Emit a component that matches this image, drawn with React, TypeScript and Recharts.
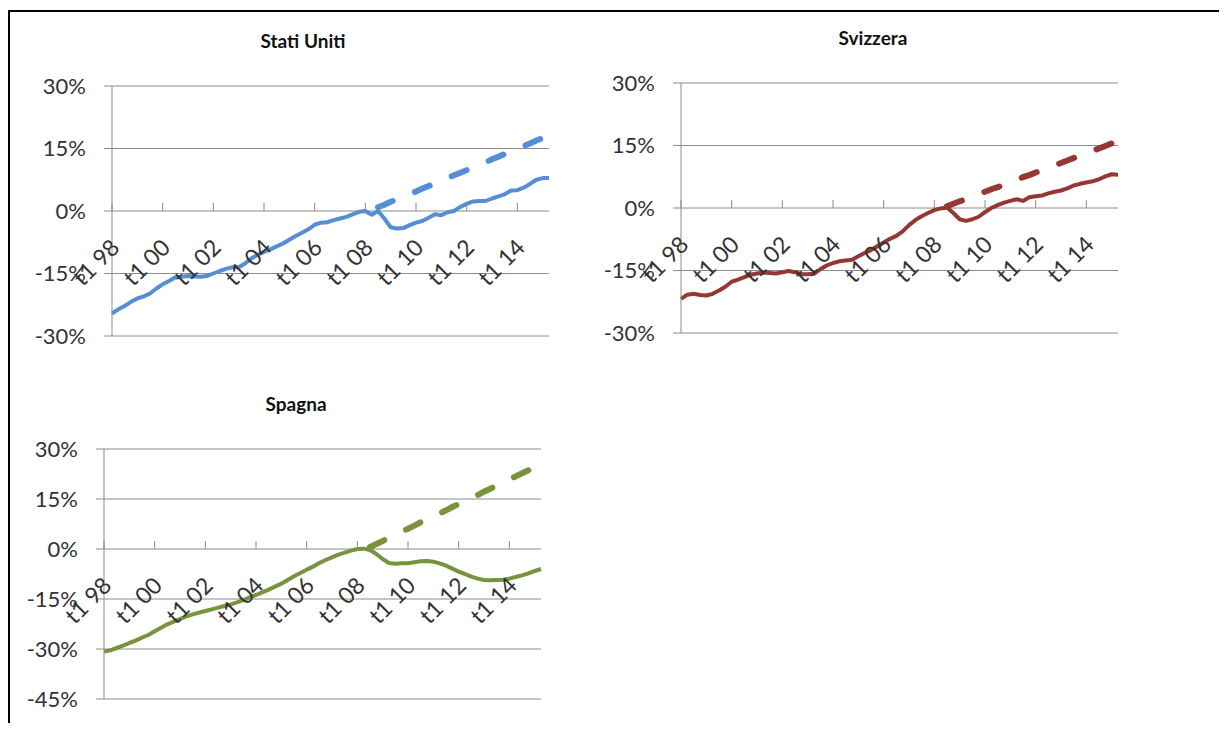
import { LineChart, Line, XAxis, YAxis, CartesianGrid } from 'recharts';

// quarters t1 98 .. t2 15
const years = ['98', '99', '00', '01', '02', '03', '04', '05', '06', '07', '08', '09', '10', '11', '12', '13', '14', '15'];
const quarters = years.flatMap((y) => [1, 2, 3, 4].map((q) => `t${q} ${y}`)).slice(0, 70);

// trend lines start at t3 08
const TREND_START = 42;

const usActual = [
  -24.6, -23.6, -22.8, -21.8, -21.0, -20.5, -19.8, -18.6, -17.6, -16.8,
  -15.9, -15.8, -15.6, -15.7, -15.8, -15.6, -15.0, -14.4, -13.9, -13.5,
  -13.5, -12.6, -11.4, -10.5, -9.8, -9.2, -8.5, -7.8, -6.9, -6.0,
  -5.2, -4.4, -3.3, -2.8, -2.7, -2.2, -1.8, -1.4, -0.8, -0.2,
  0.0, -0.9, 0.0, -1.8, -3.9, -4.2, -4.1, -3.4, -2.8, -2.4,
  -1.6, -0.8, -1.0, -0.3, 0.0, 1.0, 1.7, 2.3, 2.4, 2.4,
  3.0, 3.5, 4.0, 4.9, 5.0, 5.6, 6.5, 7.5, 7.9, 7.9,
];
const usTrend = [
  0.9, 1.5, 2.2, 2.8, 3.4, 4.1, 4.7, 5.4, 6.0, 6.6,
  7.3, 7.9, 8.6, 9.2, 9.8, 10.5, 11.1, 11.7, 12.4, 13.0,
  13.7, 14.3, 14.9, 15.6, 16.2, 16.9, 17.5, 18.1,
];

const chActual = [
  -21.8, -20.8, -20.6, -20.9, -21.0, -20.6, -19.8, -18.9, -17.7, -17.2,
  -16.6, -16.0, -15.7, -15.5, -15.6, -15.7, -15.4, -15.1, -15.4, -15.9,
  -15.9, -15.8, -14.7, -13.8, -13.2, -12.8, -12.6, -12.4, -11.6, -10.8,
  -10.1, -9.2, -8.3, -7.4, -6.7, -5.6, -4.1, -2.9, -2.0, -1.2,
  -0.5, -0.1, 0.1, -1.2, -2.7, -3.1, -2.7, -2.1, -1.0, 0.0,
  0.7, 1.3, 1.7, 2.1, 1.7, 2.6, 2.8, 3.0, 3.5, 3.9,
  4.2, 4.7, 5.4, 5.8, 6.1, 6.4, 6.9, 7.6, 8.1, 8.0,
];
const chTrend = [
  0.4, 1.0, 1.6, 2.1, 2.7, 3.3, 3.9, 4.5, 5.0, 5.6,
  6.2, 6.8, 7.4, 7.9, 8.5, 9.1, 9.7, 10.3, 10.8, 11.4,
  12.0, 12.6, 13.2, 13.7, 14.3, 14.9, 15.5, 16.1,
];

const esActual = [
  -30.8, -30.4, -29.7, -29.0, -28.2, -27.5, -26.6, -25.8, -24.7, -23.6,
  -22.6, -21.8, -21.0, -20.2, -19.6, -19.1, -18.6, -18.1, -17.6, -17.1,
  -16.6, -16.0, -15.3, -14.5, -13.8, -13.0, -12.2, -11.3, -10.4, -9.3,
  -8.2, -7.2, -6.2, -5.3, -4.2, -3.3, -2.5, -1.7, -1.1, -0.5,
  0.0, 0.1, -0.3, -1.5, -3.0, -4.2, -4.4, -4.3, -4.3, -4.0,
  -3.7, -3.6, -3.8, -4.3, -5.0, -5.9, -6.8, -7.5, -8.3, -8.9,
  -9.3, -9.4, -9.3, -9.2, -8.9, -8.4, -7.9, -7.3, -6.6, -6.0,
];
const esTrend = [
  0.6, 1.5, 2.4, 3.4, 4.3, 5.2, 6.1, 7.0, 8.0, 8.9,
  9.8, 10.7, 11.6, 12.6, 13.5, 14.4, 15.3, 16.2, 17.2, 18.1,
  19.0, 19.9, 20.8, 21.8, 22.7, 23.6, 24.5, 25.4,
];

const ticksA = [-30, -15, 0, 15, 30];
const ticksB = [-45, -30, -15, 0, 15, 30];

const GRID = '#8c8c8c';
const TEXT = '#333333';
const FONT = 'Lato, "Open Sans", sans-serif';

type PanelProps = {
  title: string;
  actual: number[];
  trend: number[];
  color: string;
  yTicks: number[];
  left: number;
  top: number;
  width: number;
  marginTop: number;
  marginRight: number;
  plotH: number;
  yWidth: number;
  titleX: number;
  titleY: number;
};

function Panel(p: PanelProps) {
  const rows = quarters.map((q, i) => ({
    q,
    actual: p.actual[i],
    trend: i >= TREND_START ? p.trend[i - TREND_START] : null,
  }));
  const yMin = p.yTicks[0];
  const yMax = p.yTicks[p.yTicks.length - 1];
  const zeroY = p.marginTop + (p.plotH * yMax) / (yMax - yMin);
  const xAxisH = 20;
  const height = p.marginTop + p.plotH + xAxisH;

  // category ticks sit on the 0% line: short mark upward, label slanted below
  const CategoryTick = (props: any) => {
    const { x, payload } = props;
    return (
      <g>
        <line x1={x} x2={x} y1={zeroY - 8} y2={zeroY} stroke={GRID} />
        <g transform={`translate(${x + 9} ${zeroY + 38}) rotate(-45)`}>
          <text x={0} y={0} textAnchor="end" fontSize={23} fill={TEXT} fontFamily={FONT}>
            {payload.value}
          </text>
        </g>
      </g>
    );
  };

  return (
    <>
      <div
        style={{
          position: 'absolute',
          left: p.titleX - 150,
          top: p.titleY - 12,
          width: 300,
          lineHeight: '24px',
          textAlign: 'center',
          fontFamily: FONT,
          fontWeight: 700,
          fontSize: 19,
          color: '#111',
        }}
      >
        {p.title}
      </div>
      <div style={{ position: 'absolute', left: p.left, top: p.top }}>
        <LineChart
          width={p.width}
          height={height}
          data={rows}
          style={{ overflow: 'visible' }}
          margin={{ top: p.marginTop, right: p.marginRight, bottom: 0, left: 0 }}
        >
          <CartesianGrid vertical={false} stroke={GRID} />
          <XAxis
            dataKey="q"
            interval={7}
            height={xAxisH}
            axisLine={false}
            tickLine={false}
            tick={CategoryTick}
          />
          <YAxis
            width={p.yWidth}
            domain={[yMin, yMax]}
            ticks={p.yTicks}
            interval={0}
            tickFormatter={(v: number) => `${v}%`}
            axisLine={{ stroke: GRID }}
            tickLine={{ stroke: GRID }}
            tickSize={8}
            tickMargin={18}
            tick={{ fill: TEXT, fontSize: 22, fontFamily: FONT }}
          />
          <Line
            type="linear"
            dataKey="actual"
            stroke={p.color}
            strokeWidth={4}
            strokeLinejoin="round"
            dot={false}
            isAnimationActive={false}
          />
          <Line
            type="linear"
            dataKey="trend"
            stroke={p.color}
            strokeWidth={6}
            strokeDasharray="16 24"
            strokeLinecap="round"
            dot={false}
            isAnimationActive={false}
          />
        </LineChart>
      </div>
    </>
  );
}

export default function App() {
  return (
    <div style={{ position: 'relative', width: 1211, height: 715 }}>
      <div
        style={{
          position: 'absolute',
          left: 0,
          top: 2,
          width: 1219,
          height: 721,
          boxSizing: 'border-box',
          borderTop: '2px solid #000',
          borderLeft: '2px solid #000',
        }}
      />
      <Panel
        title="Stati Uniti"
        actual={usActual}
        trend={usTrend}
        color="#558ED5"
        yTicks={ticksA}
        left={0}
        top={0}
        width={560}
        marginTop={78}
        marginRight={19}
        plotH={250}
        yWidth={104}
        titleX={295}
        titleY={33}
      />
      <Panel
        title="Svizzera"
        actual={chActual}
        trend={chTrend}
        color="#953735"
        yTicks={ticksA}
        left={569}
        top={0}
        width={560}
        marginTop={75}
        marginRight={19}
        plotH={250}
        yWidth={104}
        titleX={865}
        titleY={30}
      />
      <Panel
        title="Spagna"
        actual={esActual}
        trend={esTrend}
        color="#77933C"
        yTicks={ticksB}
        left={0}
        top={370}
        width={552}
        marginTop={71}
        marginRight={19}
        plotH={250}
        yWidth={96}
        titleX={288}
        titleY={396}
      />
    </div>
  );
}
